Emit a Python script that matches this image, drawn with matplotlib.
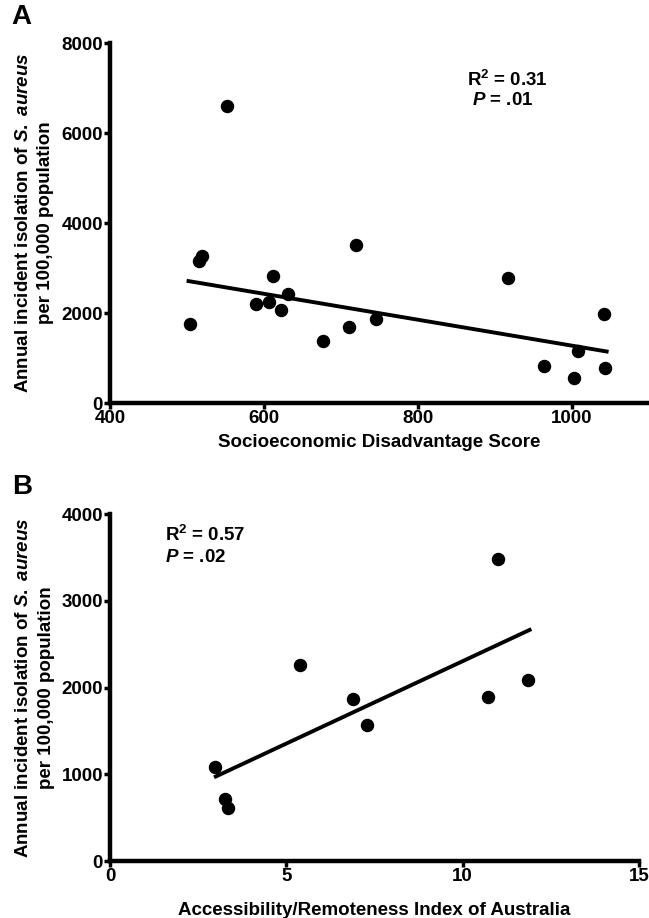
import matplotlib
matplotlib.use("Agg")
import matplotlib.pyplot as plt

# ========================
# 1. Data
# ========================

# Panel A: socioeconomic disadvantage score vs incidence
sed_score = [504, 515, 520, 552, 590, 606, 612, 622, 631, 677,
             710, 719, 746, 917, 963, 1002, 1008, 1041, 1043]
sed_rate = [1756, 3148, 3274, 6607, 2207, 2252, 2830, 2059, 2415, 1378,
            1689, 3511, 1874, 2785, 830, 548, 1156, 1985, 785]
fit_a_x = [502, 1045]
fit_a_y = [2710, 1145]

# Panel B: ARIA index vs incidence
aria_index = [2.99, 3.25, 3.35, 5.39, 6.88, 7.29, 10.73, 10.99, 11.84]
aria_rate = [1088, 713, 607, 2263, 1869, 1573, 1896, 3484, 2085]
fit_b_x = [3.0, 11.9]
fit_b_y = [975, 2665]

a_xticks = [400, 600, 800, 1000]
a_yticks = [0, 2000, 4000, 6000, 8000]
b_xticks = [0, 5, 10, 15]
b_yticks = [0, 1000, 2000, 3000, 4000]

ylabel = "Annual incident isolation of $\\mathit{S.\\ aureus}$\nper 100,000 population"

# ========================
# 2. Style
# ========================

plt.rcParams["font.family"] = ["Liberation Sans", "DejaVu Sans"]
plt.rcParams["font.weight"] = "bold"
plt.rcParams["mathtext.fontset"] = "custom"
plt.rcParams["mathtext.rm"] = "Liberation Sans:bold"
plt.rcParams["mathtext.it"] = "Liberation Sans:bold:italic"
plt.rcParams["mathtext.bf"] = "Liberation Sans:bold"

fs = 13.5

fig = plt.figure(figsize=(6.49, 9.18), dpi=100)
ax_a = fig.add_axes([0.1695, 0.561, 0.8305, 0.392])
ax_b = fig.add_axes([0.1695, 0.062, 0.815, 0.378])


def style_axes(ax):
    for side in ["top", "right"]:
        ax.spines[side].set_visible(False)
    for side in ["left", "bottom"]:
        ax.spines[side].set_linewidth(3.2)
    ax.tick_params(width=2.5, length=4, labelsize=fs, pad=1)
    for lab in ax.get_xticklabels() + ax.get_yticklabels():
        lab.set_fontweight("bold")


# ========================
# 3. Panel A
# ========================

ax_a.scatter(sed_score, sed_rate, s=75, color="black", zorder=3)
ax_a.plot(fit_a_x, fit_a_y, color="black", linewidth=2.8)
ax_a.set_xlim(400, 1100)
ax_a.set_ylim(0, 8000)
ax_a.set_xticks(a_xticks)
ax_a.set_yticks(a_yticks)
style_axes(ax_a)
ax_a.set_xlabel("Socioeconomic Disadvantage Score", fontsize=fs,
                fontweight="bold", labelpad=5)
ax_a.set_ylabel(ylabel, fontsize=fs, fontweight="bold", labelpad=5,
                linespacing=1.4)
ax_a.text(0.662, 0.897, "R$^2$ = 0.31", transform=ax_a.transAxes,
          fontsize=fs, fontweight="bold", va="center")
ax_a.text(0.672, 0.84, "$\\mathit{P}$ = .01", transform=ax_a.transAxes,
          fontsize=fs, fontweight="bold", va="center")
fig.text(0.018, 0.982, "A", fontsize=20, fontweight="bold", va="center")

# ========================
# 4. Panel B
# ========================

ax_b.scatter(aria_index, aria_rate, s=75, color="black", zorder=3)
ax_b.plot(fit_b_x, fit_b_y, color="black", linewidth=2.8)
ax_b.set_xlim(0, 15)
ax_b.set_ylim(0, 4000)
ax_b.set_xticks(b_xticks)
ax_b.set_yticks(b_yticks)
style_axes(ax_b)
ax_b.set_xlabel("Accessibility/Remoteness Index of Australia", fontsize=fs,
                fontweight="bold", labelpad=12)
ax_b.set_ylabel(ylabel, fontsize=fs, fontweight="bold", labelpad=5,
                linespacing=1.4)
ax_b.text(0.104, 0.94, "R$^2$ = 0.57", transform=ax_b.transAxes,
          fontsize=fs, fontweight="bold", va="center")
ax_b.text(0.104, 0.876, "$\\mathit{P}$ = .02", transform=ax_b.transAxes,
          fontsize=fs, fontweight="bold", va="center")
fig.text(0.018, 0.47, "B", fontsize=20, fontweight="bold", va="center")

fig.savefig("out.png", dpi=100)
